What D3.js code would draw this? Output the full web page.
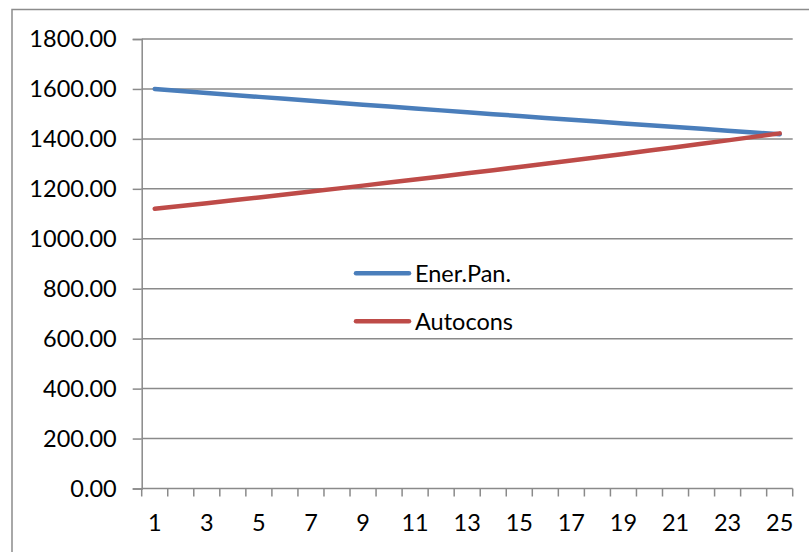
<!DOCTYPE html>
<html><head><meta charset="utf-8">
<script src="https://cdn.jsdelivr.net/npm/d3@7"></script>
<style>body{margin:0;background:#fff}svg{display:block}</style>
</head><body>
<svg id="c" width="809" height="552"></svg>
<script>
const categories = d3.range(1, 26).map(String);
const enerPan = [1600, 1592, 1584.04, 1576.12, 1568.24, 1560.40, 1552.60, 1544.83, 1537.11, 1529.42, 1521.78, 1514.17, 1506.60, 1499.06, 1491.57, 1484.11, 1476.69, 1469.31, 1461.96, 1454.65, 1447.38, 1440.14, 1432.94, 1425.78, 1418.65];
const autocons = [1120, 1131.2, 1142.51, 1153.94, 1165.48, 1177.13, 1188.90, 1200.79, 1212.80, 1224.93, 1237.18, 1249.55, 1262.05, 1274.67, 1287.41, 1300.29, 1313.29, 1326.42, 1339.69, 1353.09, 1366.62, 1380.28, 1394.08, 1408.03, 1422.11];
const yTicks = [0, 200, 400, 600, 800, 1000, 1200, 1400, 1600, 1800];
const xTickLabels = ["1","3","5","7","9","11","13","15","17","19","21","23","25"];
const seriesNames = ["Ener.Pan.", "Autocons"];
const seriesColors = ["#4A7EBB", "#BE4B48"];

const svg = d3.select("#c");
const font = "Lato, 'Open Sans', sans-serif";
const fs = 23.5;
const L = 141.7, R = 792.7, T = 39, B = 488.5;

// outer border
svg.append("rect").attr("x", 12).attr("y", 9.5).attr("width", 820).attr("height", 600)
  .attr("fill", "none").attr("stroke", "#8c8c8c").attr("stroke-width", 1.5);

const x = d3.scaleBand().domain(categories).range([L, R]);
const y = d3.scaleLinear().domain([0, 1800]).range([B, T]);

// gridlines
svg.append("g").selectAll("line").data(yTicks.filter(d => d > 0)).join("line")
  .attr("x1", L).attr("x2", R).attr("y1", d => y(d)).attr("y2", d => y(d))
  .attr("stroke", "#8a8a8a").attr("stroke-width", 1.5);

// y axis
const ya = svg.append("g").attr("transform", `translate(${L},0)`)
  .call(d3.axisLeft(y).tickValues(yTicks).tickSize(9).tickPadding(16).tickFormat(d3.format(".2f")));
ya.select(".domain").attr("stroke", "#8a8a8a").attr("stroke-width", 1.5);
ya.selectAll(".tick line").attr("stroke", "#8a8a8a").attr("stroke-width", 1.5);
ya.selectAll(".tick text").attr("font-family", font).attr("font-size", fs).attr("fill", "#000");

// x axis
const xa = svg.append("g").attr("transform", `translate(0,${B})`);
xa.append("line").attr("x1", L).attr("x2", R).attr("stroke", "#8a8a8a").attr("stroke-width", 1.5);
const bounds = categories.map(c => x(c)).concat([R]);
xa.selectAll("line.t").data(bounds).join("line").attr("class", "t")
  .attr("x1", d => d).attr("x2", d => d).attr("y1", 0).attr("y2", 8)
  .attr("stroke", "#8a8a8a").attr("stroke-width", 1.5);
xa.selectAll("text").data(xTickLabels).join("text")
  .attr("x", d => x(d) + x.bandwidth() / 2).attr("y", 42.5)
  .attr("text-anchor", "middle").attr("font-family", font).attr("font-size", fs).attr("fill", "#000")
  .text(d => d);

// lines
const line = d3.line().x((d, i) => x(categories[i]) + x.bandwidth() / 2).y(d => y(d));
[enerPan, autocons].forEach((s, k) => {
  svg.append("path").datum(s).attr("d", line).attr("fill", "none")
    .attr("stroke", seriesColors[k]).attr("stroke-width", 4.5)
    .attr("stroke-linecap", "round").attr("stroke-linejoin", "round");
});

// legend
const leg = svg.append("g");
seriesNames.forEach((n, k) => {
  const yy = 273.3 + k * 48;
  leg.append("line").attr("x1", 356).attr("x2", 409).attr("y1", yy).attr("y2", yy)
    .attr("stroke", seriesColors[k]).attr("stroke-width", 4.5).attr("stroke-linecap", "round");
  leg.append("text").attr("x", 415).attr("y", yy + 8.5).attr("font-family", font)
    .attr("font-size", fs).attr("fill", "#000").text(n);
});
</script>
</body></html>
